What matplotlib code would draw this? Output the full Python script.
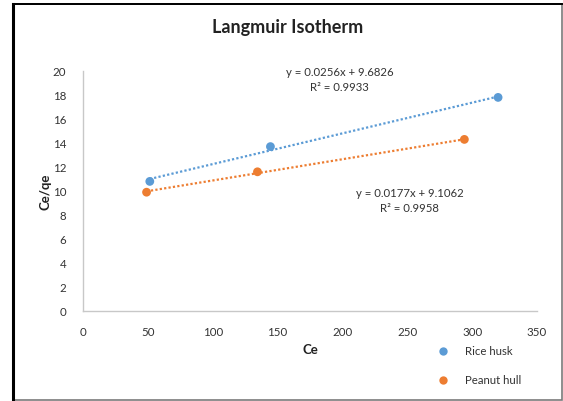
import numpy as np
import matplotlib.pyplot as plt
from matplotlib.patches import Rectangle
from matplotlib.lines import Line2D

plt.rcParams['font.family'] = ['Lato', 'DejaVu Sans']

# Langmuir isotherm data
rice_ce = [51.5, 144.5, 320]
rice_ceqe = [10.8, 13.7, 17.8]
peanut_ce = [49, 134.5, 294]
peanut_ceqe = [9.9, 11.6, 14.3]

# fitted trendlines (slope, intercept, R^2)
rice_fit = (0.0256, 9.6826, 0.9933)
peanut_fit = (0.0177, 9.1062, 0.9958)

series_names = ['Rice husk', 'Peanut hull']
blue = '#5B9BD5'
orange = '#ED7D31'

W, H = 563, 402
fig = plt.figure(figsize=(W / 100, H / 100), dpi=100)
ax = fig.add_axes([83 / W, 1 - 312 / H, 454 / W, 240 / H])

# outer frame: gray box with heavier black left/top edges
fig.patches.append(Rectangle((13 / W, 1.2 / H), 548.5 / W, 396.3 / H,
                             transform=fig.transFigure, fill=False,
                             edgecolor='#7a7a7a', lw=1.2))
fig.add_artist(Line2D([13 / W, 13 / W], [1.2 / H, 397.5 / H],
                      transform=fig.transFigure, color='black', lw=2.2))
fig.add_artist(Line2D([13 / W, 561.5 / W], [397.5 / H, 397.5 / H],
                      transform=fig.transFigure, color='black', lw=1.4))

for xs, ys, fit, col in [(rice_ce, rice_ceqe, rice_fit, blue),
                         (peanut_ce, peanut_ceqe, peanut_fit, orange)]:
    xl = np.array([min(xs), max(xs)])
    ax.plot(xl, fit[0] * xl + fit[1], color=col, lw=1.6, ls=(0, (1, 1)), zorder=2)
    ax.scatter(xs, ys, s=40, color=col, zorder=3, edgecolors='none')

ax.text(198, 20.4, f'y = {rice_fit[0]}x + {rice_fit[1]}\nR² = {rice_fit[2]}',
        ha='center', va='top', fontsize=8.2, color='#333333', linespacing=1.4)
ax.text(252, 10.3, f'y = {peanut_fit[0]}x + {peanut_fit[1]}\nR² = {peanut_fit[2]}',
        ha='center', va='top', fontsize=8.2, color='#333333', linespacing=1.4)

ax.set_xlim(0, 350)
ax.set_ylim(0, 20)
ax.set_xticks(range(0, 351, 50))
ax.set_yticks(range(0, 21, 2))
ax.tick_params(length=0, labelsize=8.3, labelcolor='#333333')
ax.tick_params(axis='x', pad=11)
ax.tick_params(axis='y', pad=12)
for side in ['top', 'right']:
    ax.spines[side].set_visible(False)
for side in ['left', 'bottom']:
    ax.spines[side].set_color('#c8c8c8')
    ax.spines[side].set_linewidth(1.0)

fig.text(288 / W, 1 - 28 / H, 'Langmuir Isotherm', ha='center', va='center',
         fontsize=13, fontweight='bold', color='#222222')
fig.text(45 / W, 1 - 192 / H, 'Ce/qe', ha='center', va='center',
         rotation=90, fontsize=9.5, fontweight='bold', color='#222222')
fig.text(310 / W, 1 - 350 / H, 'Ce', ha='center', va='center',
         fontsize=9.5, fontweight='bold', color='#222222')

# legend
for i, (name, col) in enumerate(zip(series_names, [blue, orange])):
    y = 1 - (352 + 29 * i) / H
    fig.add_artist(Line2D([443 / W], [y], transform=fig.transFigure,
                          marker='o', ms=6, color=col, mec='none'))
    fig.text(465 / W, y, name, ha='left', va='center', fontsize=8.2,
             color='#333333')

fig.savefig('out.png', dpi=100)
